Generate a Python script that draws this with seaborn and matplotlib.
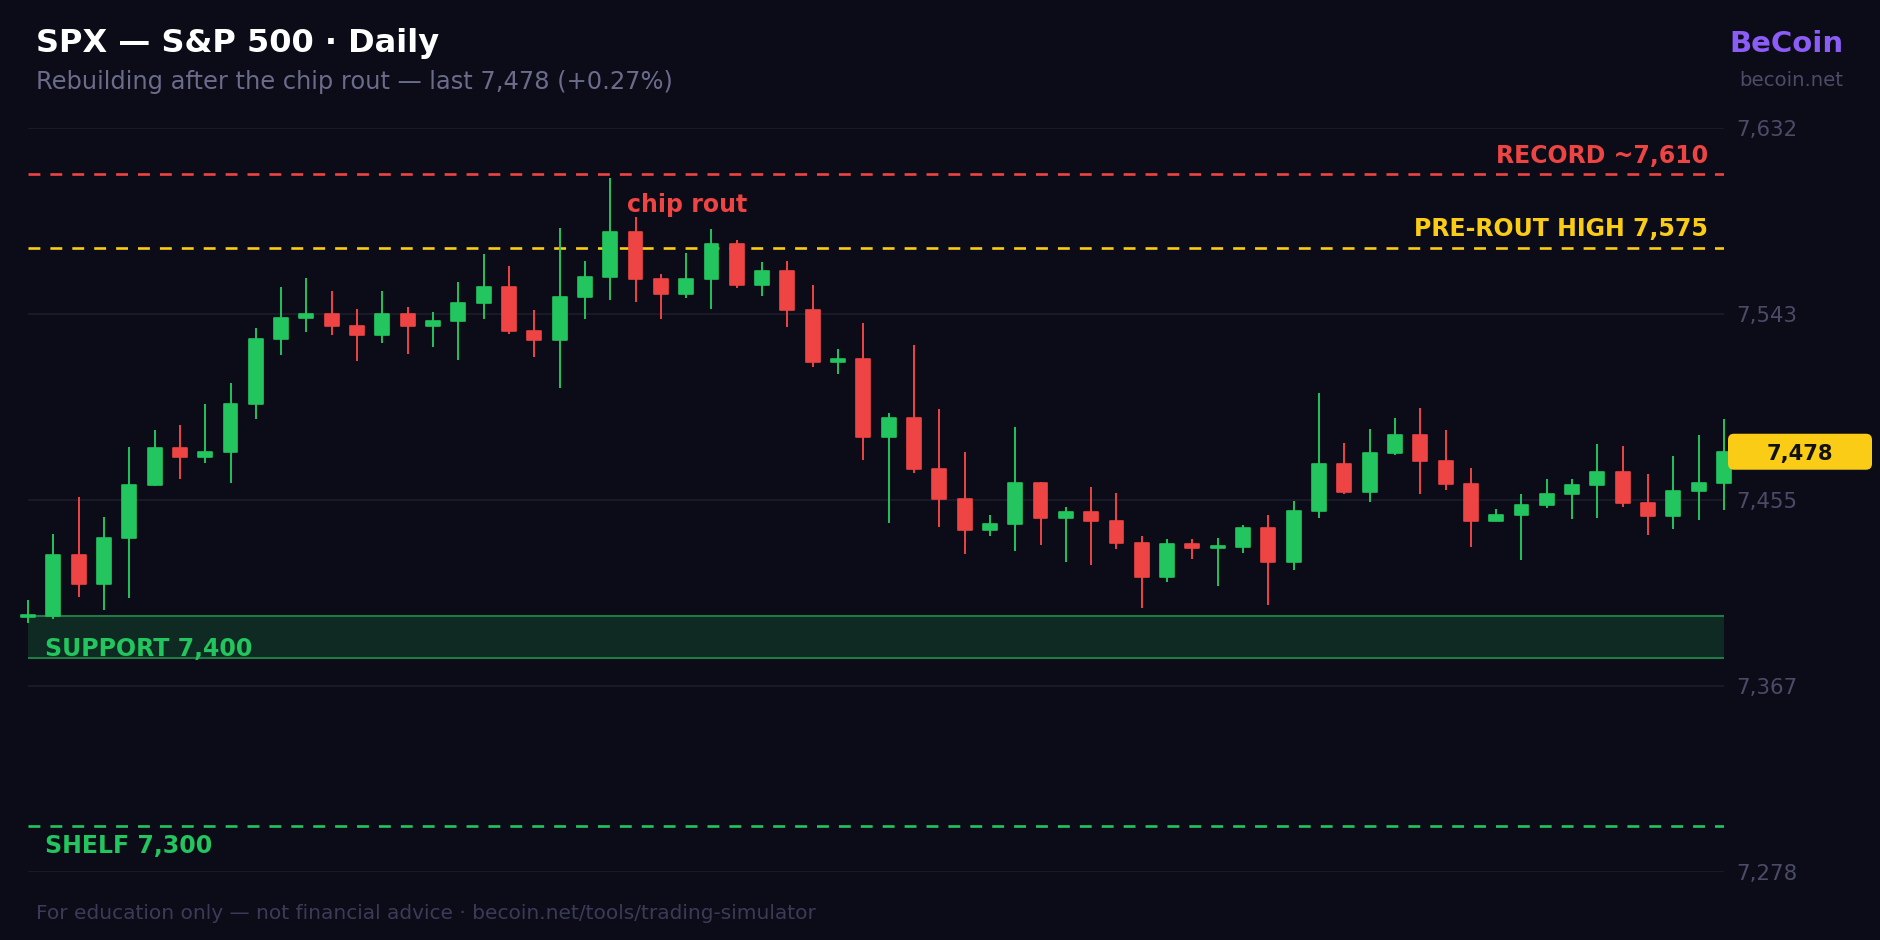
import numpy as np
import pandas as pd
import matplotlib
matplotlib.use("Agg")
import matplotlib.pyplot as plt
import seaborn as sns
from matplotlib.patches import FancyBboxPatch
from matplotlib.transforms import IdentityTransform

# daily OHLC
opens = [7399.5, 7400.0, 7429.1, 7415.2, 7437.2, 7462.3, 7479.9, 7475.3, 7477.7, 7500.9,
         7531.8, 7541.5, 7543.6, 7538.0, 7533.6, 7543.4, 7538.0, 7540.4, 7548.6, 7556.4,
         7535.3, 7530.9, 7551.5, 7561.3, 7582.3, 7560.2, 7552.9, 7560.2, 7576.6, 7557.1,
         7564.0, 7545.6, 7520.9, 7522.0, 7484.8, 7493.9, 7469.6, 7455.3, 7440.7, 7443.7,
         7463.2, 7446.6, 7449.3, 7445.3, 7434.8, 7418.6, 7434.0, 7432.0, 7432.9, 7441.7,
         7425.8, 7449.6, 7472.0, 7459.0, 7477.4, 7485.8, 7473.4, 7462.6, 7445.2, 7448.0,
         7452.5, 7458.0, 7462.0, 7468.5, 7453.4, 7447.4, 7459.1, 7463.2]
highs = [7407.7, 7438.8, 7456.7, 7447.1, 7480.2, 7488.2, 7490.7, 7500.7, 7510.7, 7536.9,
         7556.4, 7560.7, 7554.4, 7545.9, 7554.2, 7546.9, 7544.5, 7558.8, 7572.0, 7566.4,
         7545.3, 7584.5, 7568.8, 7608.2, 7589.8, 7562.6, 7572.6, 7583.9, 7578.6, 7568.3,
         7568.8, 7557.4, 7526.7, 7539.0, 7496.4, 7528.6, 7498.2, 7477.9, 7447.9, 7489.8,
         7463.8, 7451.5, 7461.2, 7458.3, 7437.9, 7436.4, 7436.4, 7436.9, 7443.1, 7447.7,
         7454.4, 7506.1, 7482.1, 7488.8, 7493.9, 7499.0, 7488.3, 7470.4, 7450.7, 7457.9,
         7465.0, 7465.0, 7481.7, 7480.9, 7467.4, 7475.9, 7485.9, 7493.4]
lows = [7396.6, 7398.5, 7409.0, 7402.6, 7408.6, 7461.6, 7464.8, 7472.5, 7463.2, 7493.4,
        7524.2, 7534.7, 7533.6, 7521.0, 7529.6, 7524.5, 7527.9, 7521.7, 7540.9, 7534.2,
        7523.1, 7508.3, 7541.2, 7550.1, 7549.0, 7541.0, 7550.9, 7546.1, 7555.8, 7552.1,
        7537.4, 7518.5, 7515.0, 7474.2, 7444.0, 7467.7, 7442.0, 7429.6, 7437.9, 7430.6,
        7433.6, 7425.6, 7424.0, 7431.7, 7403.7, 7416.1, 7427.1, 7414.2, 7429.9, 7405.2,
        7421.8, 7446.6, 7458.0, 7454.2, 7476.4, 7458.0, 7459.6, 7432.8, 7445.2, 7426.7,
        7451.3, 7446.1, 7446.3, 7451.8, 7438.2, 7441.2, 7445.6, 7450.4]
closes = [7400.0, 7429.1, 7415.2, 7437.2, 7462.3, 7479.9, 7475.3, 7477.7, 7500.9, 7531.8,
          7541.5, 7543.6, 7538.0, 7533.6, 7543.4, 7538.0, 7540.4, 7548.6, 7556.4, 7535.3,
          7530.9, 7551.5, 7561.3, 7582.3, 7560.2, 7552.9, 7560.2, 7576.6, 7557.1, 7564.0,
          7545.6, 7520.9, 7521.5, 7484.8, 7493.9, 7469.6, 7455.3, 7440.7, 7443.7, 7463.2,
          7446.6, 7449.3, 7445.3, 7434.8, 7418.6, 7434.0, 7432.0, 7432.9, 7441.7, 7425.8,
          7449.6, 7472.0, 7459.0, 7477.4, 7485.8, 7473.4, 7462.6, 7445.2, 7448.0, 7452.5,
          7458.0, 7462.0, 7468.5, 7453.4, 7447.4, 7459.1, 7463.2, 7478.0]

record_level = 7610
prerout_level = 7575
support_band = (7380, 7400)
shelf_level = 7300
y_range = (7278.3, 7631.8)

BG = "#0b0c17"
GREEN = "#22c55e"
RED = "#ef4444"
YELLOW = "#facc15"
PURPLE = "#8b5cf6"
GRID = "#1c1c2c"
MUTED = "#4b4b68"

df = pd.DataFrame({"open": opens, "high": highs, "low": lows, "close": closes})
df["x"] = np.arange(len(df))
df["dir"] = np.where(df["close"] >= df["open"], "up", "down")

sns.set_theme(style="dark", rc={
    "figure.facecolor": BG, "axes.facecolor": BG, "savefig.facecolor": BG,
    "axes.edgecolor": BG, "text.color": "white",
})
plt.rcParams["font.family"] = ["DejaVu Sans"]

fig = plt.figure(figsize=(18.8, 9.4), dpi=100)
W, H = 1880, 940
ax = fig.add_axes([28 / W, 1 - 871.7 / H, (1724 - 28) / W, (871.7 - 128.3) / H])
ax.set_xlim(0, len(df) - 1)
ax.set_ylim(*y_range)
for s in ax.spines.values():
    s.set_visible(False)

# grid + right-hand price labels
ticks = np.linspace(y_range[0], y_range[1], 5)
ax.set_yticks(ticks)
ax.set_yticklabels([f"{t:,.0f}" for t in ticks])
ax.yaxis.tick_right()
ax.tick_params(axis="y", length=0, pad=8.5, labelsize=15.3, labelcolor=MUTED)
ax.set_xticks([])
ax.grid(axis="y", color=GRID, lw=1.2)
ax.set_axisbelow(True)

# support band and reference levels
ax.axhspan(*support_band, color="#0f2a22", lw=0, zorder=1)
for lvl in support_band:
    ax.axhline(lvl, color="#1f7a45", lw=1.5, zorder=1.5)
dash = (0, (4.5, 3.8))
ax.axhline(record_level, color=RED, lw=1.9, ls=dash, zorder=1.5)
ax.axhline(prerout_level, color=YELLOW, lw=1.9, ls=dash, zorder=1.5)
ax.axhline(shelf_level, color=GREEN, lw=1.9, ls=dash, zorder=1.5)

# wicks via seaborn (one line per candle)
wicks = pd.concat([
    df[["x", "dir"]].assign(price=df["low"]),
    df[["x", "dir"]].assign(price=df["high"]),
])
sns.lineplot(data=wicks, x="x", y="price", units="x", estimator=None, hue="dir",
             palette={"up": GREEN, "down": RED}, legend=False, lw=1.4, ax=ax, zorder=3)
for ln in ax.lines[-len(df):]:
    ln.set_clip_on(False)
    ln.set_solid_capstyle("butt")

# bodies
colors = np.where(df["dir"] == "up", GREEN, RED)
bottom = np.minimum(df["open"], df["close"])
height = np.maximum((df["close"] - df["open"]).abs(), 1.0)
ax.bar(df["x"], height, bottom=bottom, width=0.55, color=colors, edgecolor=colors,
       lw=1.2, joinstyle="round", zorder=4, clip_on=False)
ax.set_xlim(0, len(df) - 1)
ax.set_ylim(*y_range)
ax.set_xlabel("")
ax.set_ylabel("")

# level labels
lab = dict(fontsize=17, fontweight="bold")
ax.text(66.37, record_level + 5.2, "RECORD ~7,610", color=RED, ha="right", va="baseline", **lab)
ax.text(66.37, prerout_level + 5.5, "PRE-ROUT HIGH 7,575", color=YELLOW, ha="right", va="baseline", **lab)
ax.text(23.65, 7592.0, "chip rout", color=RED, ha="left", va="baseline", **lab)
ax.text(0.66, 7381.0, "SUPPORT 7,400", color=GREEN, ha="left", va="baseline", **lab)
ax.text(0.66, 7287.2, "SHELF 7,300", color=GREEN, ha="left", va="baseline", **lab)

# last price tag
last = closes[-1]
y_disp = ax.transData.transform((0, last))[1]
fig.add_artist(FancyBboxPatch((1728, y_disp - 18), 144, 36,
                              boxstyle="round,pad=0,rounding_size=6",
                              fc=YELLOW, ec="none", transform=IdentityTransform(), zorder=10))
fig.text(1800, y_disp, f"{last:,.0f}", transform=IdentityTransform(), ha="center",
         va="center_baseline", fontsize=15.2, fontweight="bold", color="#111111", zorder=11)

# header / footer
fig.text(36 / W, 1 - 51.7 / H, "SPX — S&P 500 · Daily", fontsize=23, fontweight="bold",
         color="white", ha="left", va="baseline")
fig.text(36 / W, 1 - 89 / H, "Rebuilding after the chip rout — last 7,478 (+0.27%)",
         fontsize=17.4, color="#6b6b8c", ha="left", va="baseline")
fig.text(1844 / W, 1 - 52 / H, "BeCoin", fontsize=21, fontweight="bold", color=PURPLE,
         ha="right", va="baseline")
fig.text(1843 / W, 1 - 86 / H, "becoin.net", fontsize=14.2, color=MUTED, ha="right", va="baseline")
fig.text(36 / W, 1 - 919 / H,
         "For education only — not financial advice · becoin.net/tools/trading-simulator",
         fontsize=14.5, color="#3b3b58", ha="left", va="baseline")

fig.savefig("out.png", dpi=100, facecolor=BG)
